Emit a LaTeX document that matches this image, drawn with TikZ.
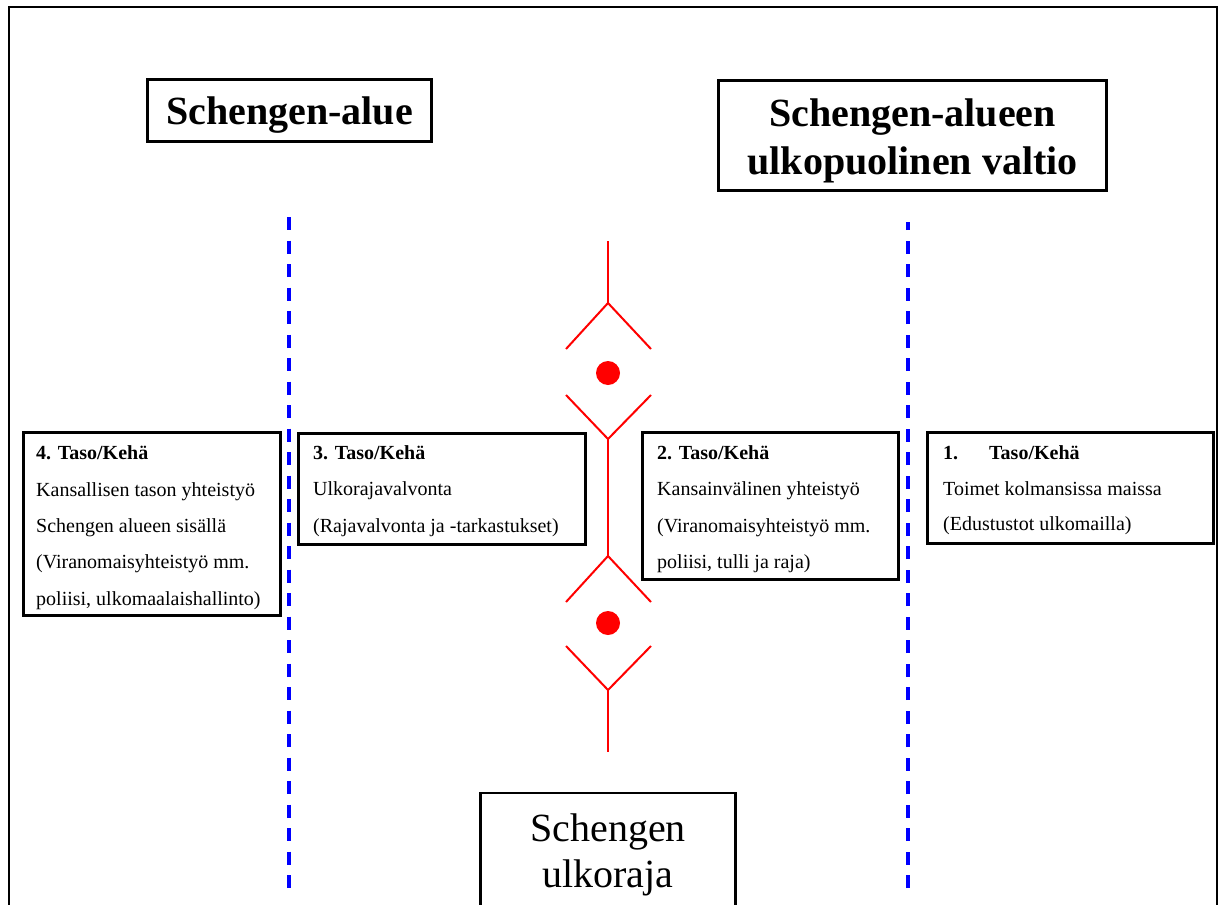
\documentclass[tikz,border=0pt]{standalone}
\usepackage{fontspec}
\setmainfont{Liberation Serif}
\begin{document}
\begin{tikzpicture}[x=1pt,y=-1pt,
  box/.style={draw=black, line width=2.6pt, inner sep=0pt, fill=white},
  title/.style={font=\fontsize{40}{47}\selectfont\bfseries, inner sep=0pt},
  bigtext/.style={font=\fontsize{40}{47}\selectfont, inner sep=0pt},
  head/.style={font=\fontsize{20}{24}\selectfont\bfseries, inner sep=0pt, anchor=base west},
  body/.style={font=\fontsize{20}{24}\selectfont, inner sep=0pt, anchor=base west},
  zone/.style={draw={rgb,255:red,0;green,0;blue,255}, line width=3.2pt, dash pattern=on 13pt off 10.5pt},
  border/.style={draw=red, line width=2pt},
]
\clip (0,0) rectangle (1224,905);
\fill[white] (0,0) rectangle (1224,905);

% outer frame, open at the bottom
\draw[line width=1.5pt] (9,910) -- (9,7) -- (1217,7) -- (1217,910);

% zone separators
\coordinate (zl-top) at (289,217);
\coordinate (zl-bot) at (289,888);
\coordinate (zr-top) at (908,222);
\coordinate (zr-bot) at (908,888);
\draw[zone] (zl-top) -- (zl-bot);
\draw[zone] (zr-bot) -- (zr-top);

% region titles
\node[box, minimum width=284pt, minimum height=62pt] (area) at (289.5,110.5) {};
\node[title, anchor=base] (area-t) at (289.5,124) {Schengen-alue};
\node[box, minimum width=388pt, minimum height=110pt] (outside) at (912.5,135.5) {};
\node[title, anchor=base] (outside-t1) at (912.5,126) {Schengen-alueen};
\node[title, anchor=base] (outside-t2) at (912.5,174) {ulkopuolinen valtio};

% external border symbol
\coordinate (r0) at (608,241);
\coordinate (r1) at (608,303);
\coordinate (r2) at (608,439);
\coordinate (r3) at (608,556);
\coordinate (r4) at (608,690);
\coordinate (r5) at (608,752);
\draw[border] (r0) -- (r1);
\draw[border] (566,349) -- (r1) -- (651,349);
\fill[red] (608,373) circle (12pt);
\draw[border] (566,395) -- (r2) -- (651,395);
\draw[border] (r2) -- (r3);
\draw[border] (566,602) -- (r3) -- (651,602);
\fill[red] (608,623) circle (12pt);
\draw[border] (566,646) -- (r4) -- (651,646);
\draw[border] (r4) -- (r5);

% level 4
\node[box, minimum width=257pt, minimum height=183pt] (l4) at (152,524) {};
\node[head] (l4-h) at (36,459) {4. Taso/Kehä};
\node[body] (l4-a) at (36,496) {Kansallisen tason yhteistyö};
\node[body] (l4-b) at (36,532) {Schengen alueen sisällä};
\node[body] (l4-c) at (36,568) {(Viranomaisyhteistyö mm.};
\node[body] (l4-d) at (36,605) {poliisi, ulkomaalaishallinto)};

% level 3
\node[box, minimum width=287pt, minimum height=111pt] (l3) at (442,489) {};
\node[head] (l3-h) at (313,459) {3. Taso/Kehä};
\node[body] (l3-a) at (313,495) {Ulkorajavalvonta};
\node[body] (l3-b) at (313,532) {(Rajavalvonta ja -tarkastukset)};

% level 2
\node[box, minimum width=256pt, minimum height=147pt] (l2) at (770.5,506) {};
\node[head] (l2-h) at (657,459) {2. Taso/Kehä};
\node[body] (l2-a) at (657,495) {Kansainvälinen yhteistyö};
\node[body] (l2-b) at (657,532) {(Viranomaisyhteistyö mm.};
\node[body] (l2-c) at (657,568) {poliisi, tulli ja raja)};

% level 1
\node[box, minimum width=286pt, minimum height=111pt] (l1) at (1070.5,488) {};
\node[head] (l1-n) at (943,459) {1.};
\node[head] (l1-h) at (989,459) {Taso/Kehä};
\node[body] (l1-a) at (943,495) {Toimet kolmansissa maissa};
\node[body] (l1-b) at (943,530) {(Edustustot ulkomailla)};

% external border label
\node[box, minimum width=255pt, minimum height=120pt] (edge) at (608,853) {};
\node[bigtext, anchor=base] (edge-t1) at (608,841) {Schengen};
\node[bigtext, anchor=base] (edge-t2) at (608,887) {ulkoraja};
\end{tikzpicture}
\end{document}
